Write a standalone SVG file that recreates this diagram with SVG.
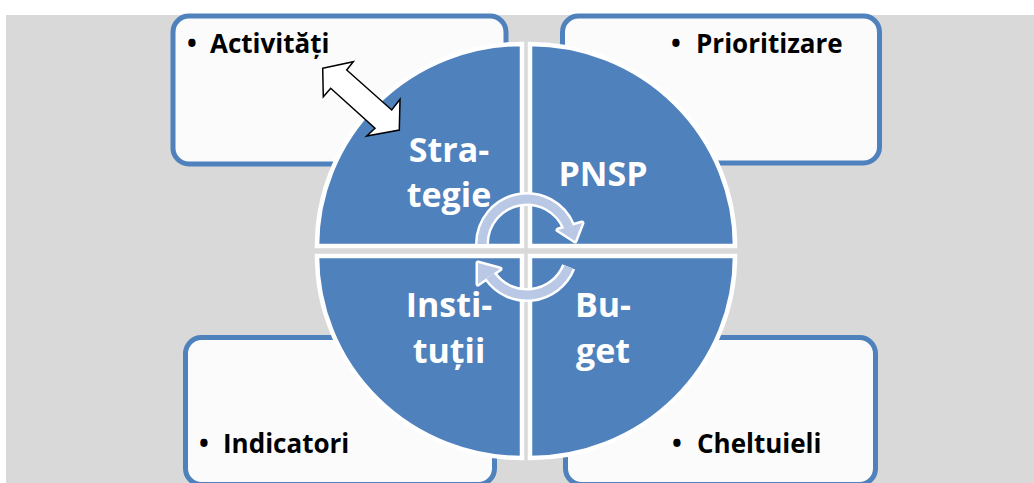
<svg xmlns="http://www.w3.org/2000/svg" width="1034" height="483" viewBox="0 0 1034 483">
  <style>
    .box { fill: #FBFBFB; stroke: #4F81BD; stroke-width: 5; }
    .quad { fill: #4F81BD; stroke: #FFFFFF; stroke-width: 4.5; }
    .qlabel { font-family: "Open Sans", "Liberation Sans", sans-serif; font-weight: 700; font-size: 34px; fill: #FFFFFF; text-anchor: middle; }
    .blabel { font-family: "Open Sans", "Liberation Sans", sans-serif; font-weight: 700; font-size: 26px; fill: #000000; }
    .ring-edge { fill: none; stroke: #FFFFFF; stroke-width: 14; }
    .ring { fill: none; stroke: #B9C8E4; stroke-width: 9; }
    .head-edge { fill: #FFFFFF; stroke: #FFFFFF; stroke-width: 5; stroke-linejoin: round; }
    .head { fill: #B9C8E4; }
  </style>

  <!-- backdrop -->
  <rect x="6" y="15" width="1028" height="468" fill="#D9D9D9"/>

  <!-- corner boxes -->
  <g id="box-activitati">
    <rect class="box" x="173" y="16" width="333" height="148" rx="16"/>
    <text class="blabel" y="53"><tspan x="187">•</tspan><tspan x="210">Activități</tspan></text>
  </g>
  <g id="box-prioritizare">
    <rect class="box" x="562.5" y="16" width="317" height="147" rx="16"/>
    <text class="blabel" y="53"><tspan x="671">•</tspan><tspan x="696">Prioritizare</tspan></text>
  </g>
  <g id="box-indicatori">
    <rect class="box" x="185.5" y="337.5" width="309" height="147" rx="16"/>
    <text class="blabel" y="453"><tspan x="199">•</tspan><tspan x="223">Indicatori</tspan></text>
  </g>
  <g id="box-cheltuieli">
    <rect class="box" x="565.5" y="337.5" width="310" height="147" rx="16"/>
    <text class="blabel" y="453"><tspan x="672">•</tspan><tspan x="697">Cheltuieli</tspan></text>
  </g>

  <!-- quarter-circle segments -->
  <g id="q-strategie">
    <path class="quad" d="M522,246 L317,246 A205,202 0 0 1 522,44 Z"/>
    <text class="qlabel" x="449" y="162">Stra-</text>
    <text class="qlabel" x="449" y="207">tegie</text>
  </g>
  <g id="q-pnsp">
    <path class="quad" d="M530,246 L530,44 A205,202 0 0 1 735,246 Z"/>
    <text class="qlabel" x="603" y="186">PNSP</text>
  </g>
  <g id="q-buget">
    <path class="quad" d="M530,256 L735,256 A205,202 0 0 1 530,458 Z"/>
    <text class="qlabel" x="603" y="317">Bu-</text>
    <text class="qlabel" x="603" y="363">get</text>
  </g>
  <g id="q-institutii">
    <path class="quad" d="M522,256 L522,458 A205,202 0 0 1 317,256 Z"/>
    <text class="qlabel" x="449" y="317">Insti-</text>
    <text class="qlabel" x="449" y="363">tuții</text>
  </g>

  <!-- connectors -->
  <g id="connectors">
    <!-- two-way arrow between Activități and Strategie -->
    <polygon points="322.7,68.3 353.3,61.7 346.7,70 391.7,110 400,99.3 399.3,130 366.7,136 375,128.3 330.7,88.3 323.3,96.7" fill="#FFFFFF" stroke="#000000" stroke-width="1.5" stroke-linejoin="miter"/>

    <!-- cycle arrows at the centre: white outline first, then the fill -->
    <path class="ring-edge" d="M482,244 A45,45 0 0 1 568.7,227.1"/>
    <polygon class="head-edge" points="558,230 582,223 575,241"/>
    <path class="ring-edge" d="M568.7,266.9 A45,45 0 0 1 490.1,275.8"/>
    <polygon class="head-edge" points="500,269 478,284 478,263"/>

    <path class="ring" d="M482,244 A45,45 0 0 1 568.7,227.1"/>
    <polygon class="head" points="558,230 582,223 575,241"/>
    <path class="ring" d="M568.7,266.9 A45,45 0 0 1 490.1,275.8"/>
    <polygon class="head" points="500,269 478,284 478,263"/>
  </g>
</svg>
